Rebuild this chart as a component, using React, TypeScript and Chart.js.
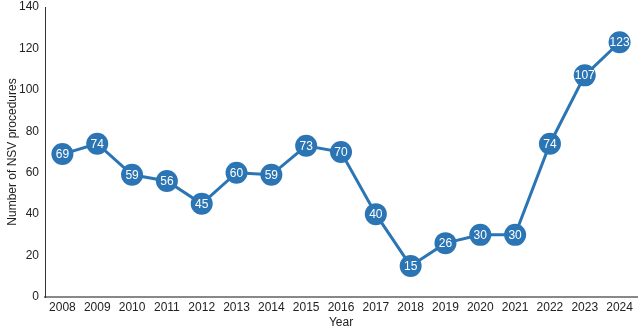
import React, { useEffect, useRef } from "react";
import { Chart, registerables } from "chart.js";

Chart.register(...registerables);

const years = ["2008","2009","2010","2011","2012","2013","2014","2015","2016","2017","2018","2019","2020","2021","2022","2023","2024"];
const procedures = [69,74,59,56,45,60,59,73,70,40,15,26,30,30,74,107,123];

const BLUE = "#2b75b5";
const FONT = "'Liberation Sans', Arial, Helvetica, sans-serif";

const labelPlugin = {
  id: "pointLabels",
  afterDatasetsDraw(chart: any) {
    const ctx = chart.ctx;
    const meta = chart.getDatasetMeta(0);
    const data = chart.data.datasets[0].data;
    ctx.save();
    ctx.fillStyle = "#ffffff";
    ctx.font = `12px ${FONT}`;
    ctx.textAlign = "center";
    ctx.textBaseline = "middle";
    meta.data.forEach((pt: any, i: number) => {
      ctx.fillText(String(data[i]), pt.x, pt.y + 0.5);
    });
    ctx.restore();
  },
};

export default function App() {
  const ref = useRef<HTMLCanvasElement>(null);
  useEffect(() => {
    document.body.style.margin = "0";
    const chart = new Chart(ref.current!, {
      type: "line",
      data: {
        labels: years,
        datasets: [
          {
            data: procedures,
            borderColor: BLUE,
            backgroundColor: BLUE,
            borderWidth: 3,
            pointRadius: 11,
            pointHoverRadius: 11,
            pointBackgroundColor: BLUE,
            pointBorderColor: BLUE,
            pointBorderWidth: 0,
            tension: 0,
            clip: false,
          },
        ],
      },
      options: {
        animation: false,
        responsive: false,
        maintainAspectRatio: false,
        layout: { autoPadding: false, padding: { top: 7, right: 3, left: 0, bottom: 0 } },
        plugins: { legend: { display: false }, tooltip: { enabled: false } },
        scales: {
          x: {
            offset: true,
            grid: { display: false, drawTicks: false },
            border: { display: true, color: "#888", width: 2 },
            ticks: { color: "#222", font: { family: FONT, size: 12 }, padding: 3, maxRotation: 0, autoSkip: false },
            title: { display: true, text: "Year", color: "#222", font: { family: FONT, size: 12 }, padding: 0 },
            afterFit: (s: any) => { s.height = 33; s.paddingLeft = 0; s.paddingRight = 0; },
          },
          y: {
            min: 0,
            max: 140,
            grid: { display: false, drawTicks: false },
            border: { display: true, color: "#333", width: 1 },
            ticks: { stepSize: 20, color: "#222", font: { family: FONT, size: 12 }, padding: 6 },
            title: { display: true, text: "Number of NSV procedures", color: "#222", font: { family: FONT, size: 12 }, padding: { top: 5, bottom: 0 } },
            afterFit: (s: any) => { s.width = 45; s.paddingTop = 0; s.paddingBottom = 0; },
          },
        },
      },
      plugins: [labelPlugin],
    });
    return () => chart.destroy();
  }, []);
  return (
    <div style={{ width: 640, height: 330 }}>
      <canvas ref={ref} width={640} height={330} />
    </div>
  );
}
